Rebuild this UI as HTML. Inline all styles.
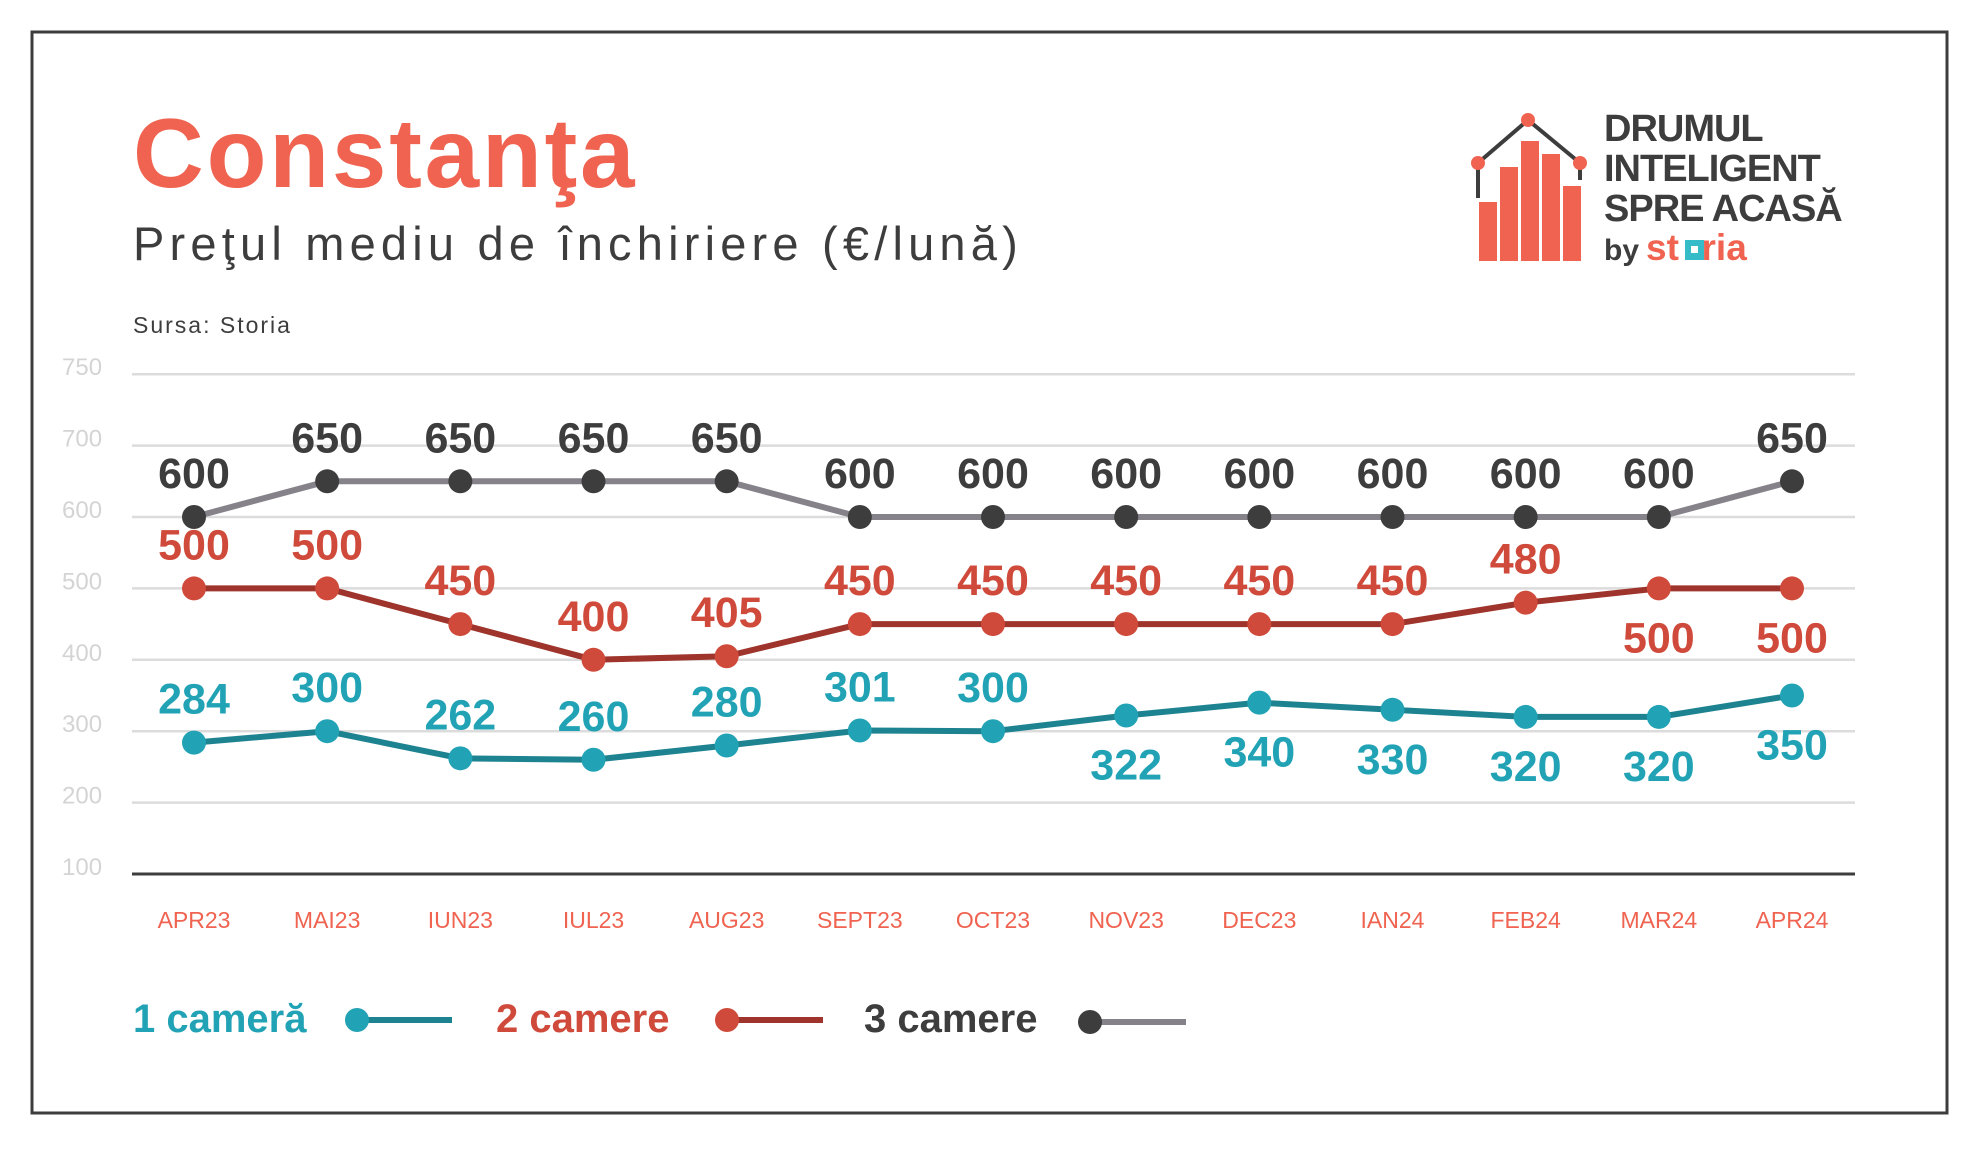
<!DOCTYPE html>
<html><head><meta charset="utf-8">
<style>
html,body{margin:0;padding:0;background:#fff;}
body{width:1979px;height:1146px;position:relative;overflow:hidden;font-family:"Liberation Sans",sans-serif;}
</style></head>
<body>
<svg width="1979" height="1146" viewBox="0 0 1979 1146" xmlns="http://www.w3.org/2000/svg" font-family="Liberation Sans, sans-serif">
<rect x="32" y="32" width="1915" height="1081" fill="none" stroke="#3d3d3d" stroke-width="3"/>
<text x="133" y="187" font-size="98" font-weight="bold" fill="#ef6350" letter-spacing="2.8">Constanţa</text>
<text x="133" y="260" font-size="47" fill="#3d3d3d" letter-spacing="5.2">Preţul mediu de închiriere (€/lună)</text>
<text x="133" y="333" font-size="23" fill="#3d3d3d" letter-spacing="2">Sursa: Storia</text>
<g>
<polyline points="1478,163 1528,120 1580,163" stroke="#3d3d3d" stroke-width="4" fill="none"/>
<line x1="1478" y1="163" x2="1478" y2="198" stroke="#3d3d3d" stroke-width="4"/>
<line x1="1580" y1="163" x2="1580" y2="180" stroke="#3d3d3d" stroke-width="4"/>
<rect x="1479" y="202" width="18" height="59" fill="#ef6350"/>
<rect x="1500" y="167" width="18" height="94" fill="#ef6350"/>
<rect x="1521" y="141" width="18" height="120" fill="#ef6350"/>
<rect x="1542" y="154" width="18" height="107" fill="#ef6350"/>
<rect x="1563" y="186" width="18" height="75" fill="#ef6350"/>
<circle cx="1478" cy="163" r="7" fill="#ef6350"/>
<circle cx="1528" cy="120" r="7" fill="#ef6350"/>
<circle cx="1580" cy="163" r="7" fill="#ef6350"/>
<text x="1604" y="141" font-size="38" font-weight="bold" fill="#3d3d3d" letter-spacing="-1">DRUMUL</text>
<text x="1604" y="181" font-size="38" font-weight="bold" fill="#3d3d3d" letter-spacing="-1">INTELIGENT</text>
<text x="1604" y="221" font-size="38" font-weight="bold" fill="#3d3d3d" letter-spacing="-1">SPRE ACASĂ</text>
<text x="1604" y="260" font-size="30" font-weight="bold" fill="#3d3d3d">by</text>
<text x="1646" y="260" font-size="37" font-weight="bold" fill="#ef6350">st<tspan fill="#ffffff">o</tspan>ria</text>
<rect x="1685" y="240" width="19" height="20" fill="#36bcc9"/>
<rect x="1691" y="246" width="7" height="7" fill="#fff"/>
</g>
<g id="grid"></g>
<g id="yticks"></g>
<g id="xticks"></g>
<g id="series"></g>
<g>
<g>
<text x="133" y="1032" font-size="40" font-weight="bold" fill="#22a3b5">1 cameră</text>
<line x1="357" y1="1020" x2="452" y2="1020" stroke="#1e8390" stroke-width="6"/>
<circle cx="357" cy="1020" r="12" fill="#22a3b5"/></g>
<g>
<text x="496" y="1032" font-size="40" font-weight="bold" fill="#cf4a3a">2 camere</text>
<line x1="727" y1="1020" x2="823" y2="1020" stroke="#9e342b" stroke-width="6"/>
<circle cx="727" cy="1020" r="12" fill="#cf4a3a"/></g>
<g>
<text x="864" y="1032" font-size="40" font-weight="bold" fill="#3d3d3d">3 camere</text>
<line x1="1090" y1="1022" x2="1186" y2="1022" stroke="#85828a" stroke-width="6"/>
<circle cx="1090" cy="1022" r="12" fill="#3d3d3d"/></g>
</g>
</svg>
<script>
const categories=["APR23","MAI23","IUN23","IUL23","AUG23","SEPT23","OCT23","NOV23","DEC23","IAN24","FEB24","MAR24","APR24"];
const gridValues=[100,200,300,400,500,600,700,800];
const gridLabels=["100","200","300","400","500","600","700","750"];
const cam1=[284,300,262,260,280,301,300,322,340,330,320,320,350];
const cam2=[500,500,450,400,405,450,450,450,450,450,480,500,500];
const cam3=[600,650,650,650,650,600,600,600,600,600,600,600,650];
const cam1Below=[0,0,0,0,0,0,0,1,1,1,1,1,1];
const cam2Below=[0,0,0,0,0,0,0,0,0,0,0,1,1];
const cam3Below=[0,0,0,0,0,0,0,0,0,0,0,0,0];
const NS="http://www.w3.org/2000/svg";
const x0=194,x1=1792,plotL=132,plotR=1855;
function X(i){return x0+(x1-x0)*i/(categories.length-1);}
function Y(v){return 874-(v-100)*(874-517)/500;}
function mk(tag,attrs,parent){const e=document.createElementNS(NS,tag);for(const k in attrs)e.setAttribute(k,attrs[k]);parent.appendChild(e);return e;}
const grid=document.getElementById('grid'),yt=document.getElementById('yticks'),xt=document.getElementById('xticks'),ser=document.getElementById('series');
gridValues.forEach((v,k)=>{
 const l=mk('line',{x1:plotL,x2:plotR,y1:Y(v),y2:Y(v),stroke:v===100?'#3d3d3d':'#dcdcdc','stroke-width':v===100?3:2.5},grid);
 
 
 const t=mk('text',{x:62,y:Y(v)+1,'font-size':24,fill:'#d4d4d4'},yt);
 t.textContent=gridLabels[k];
 
 
});
categories.forEach((c,i)=>{
 const t=mk('text',{x:X(i),y:928,'font-size':23,fill:'#ef6350','text-anchor':'middle'},xt);
 t.textContent=c;
 
 
});
function series(vals,below,lineCol,dotCol,name){
 const g=mk('g',{},ser);
 
 
 const p=mk('polyline',{points:vals.map((v,i)=>X(i)+','+Y(v)).join(' '),fill:'none',stroke:lineCol,'stroke-width':6,'stroke-linejoin':'round'},g);
 
 
 vals.forEach((v,i)=>{
  const c=mk('circle',{cx:X(i),cy:Y(v),r:12,fill:dotCol},g);
  
  
  const t=mk('text',{x:X(i),y:below[i]?Y(v)+64:Y(v)-29,'font-size':43,'font-weight':'bold',fill:dotCol,'text-anchor':'middle'},g);
  t.textContent=v;
  
  
 });
}
series(cam3,cam3Below,'#85828a','#3d3d3d','3-camere');
series(cam2,cam2Below,'#9e342b','#cf4a3a','2-camere');
series(cam1,cam1Below,'#1e8390','#22a3b5','1-camera');
</script>
</body></html>
